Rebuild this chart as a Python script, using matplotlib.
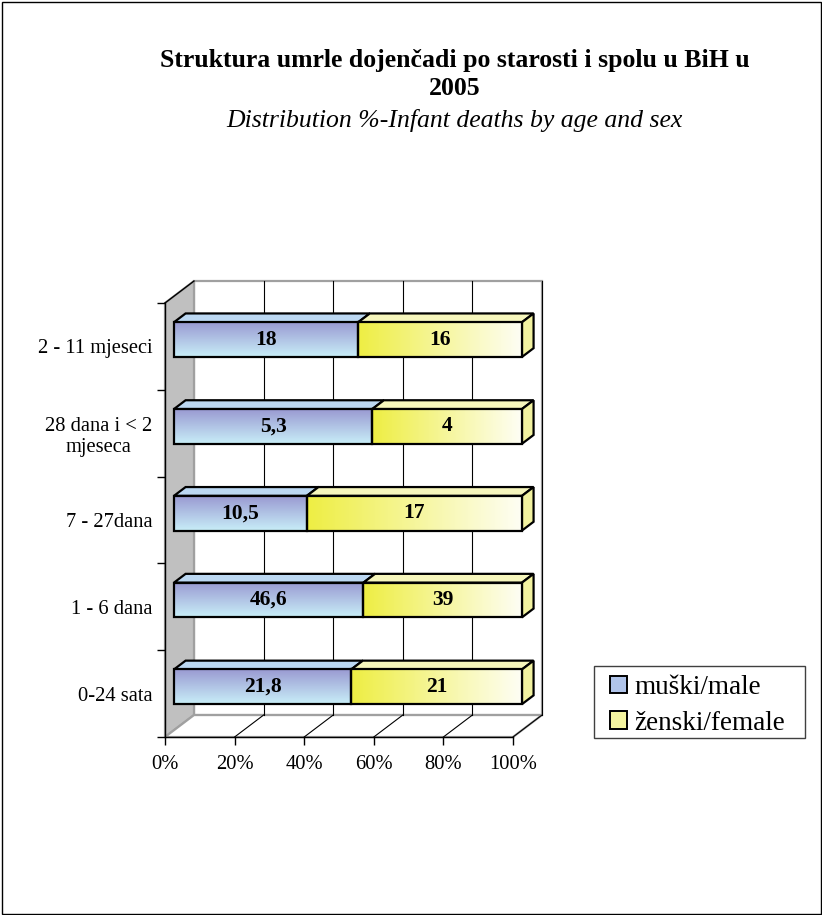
import numpy as np
import matplotlib
matplotlib.use("Agg")
import matplotlib.pyplot as plt
from matplotlib.patches import Polygon, Rectangle, Patch

plt.rcParams['font.family'] = ['Liberation Serif', 'DejaVu Serif']

# data (bottom to top)
categories = ['0-24 sata', '1 - 6 dana', '7 - 27dana', '28 dana i < 2\nmjeseca', '2 - 11 mjeseci']
male = [21.8, 46.6, 10.5, 5.3, 18]
female = [21, 39, 17, 4, 16]
male_lbl = ['21,8', '46,6', '10,5', '5,3', '18']
female_lbl = ['21', '39', '17', '4', '16']
series_names = ['muški/male', 'ženski/female']

# fake 3D depth (data units for the full wall depth)
DX, DY = 8.33, 0.253
D0, D1 = 0.31, 0.71      # bar front / back depth
BAR_H = 0.40
WALL = '#a0a0a0'

W, H = 822, 915
fig = plt.figure(figsize=(W / 100, H / 100), dpi=100)
ax = fig.add_axes([165 / W, (H - 737) / H, 348 / W, 434 / H])
ax.set_xlim(0, 100)
ax.set_ylim(0, 5)
ax.patch.set_visible(False)
for s in ['top', 'right']:
    ax.spines[s].set_visible(False)
for s in ['left', 'bottom']:
    ax.spines[s].set_linewidth(1.0)

def proj(x, y, d):
    return (x + d * DX, y + d * DY)

# walls
ax.add_patch(Polygon([(DX, DY), (100 + DX, DY), (100 + DX, 5 + DY), (DX, 5 + DY)],
                     closed=True, fc='white', ec=WALL, lw=1.6, clip_on=False, zorder=0.5))
ax.add_patch(Polygon([(0, 0), (DX, DY), (DX, 5 + DY), (0, 5)],
                     closed=True, fc='#c0c0c0', ec=WALL, lw=1.6, clip_on=False, zorder=0.6))
ax.add_patch(Polygon([(0, 0), (100, 0), (100 + DX, DY), (DX, DY)],
                     closed=True, fc='white', ec=WALL, lw=1.6, clip_on=False, zorder=0.6))
ax.plot([0, DX], [5, 5 + DY], color='black', lw=1.0, clip_on=False, zorder=0.7)
for g in range(20, 101, 20):
    ax.plot([g + DX, g + DX], [DY, 5 + DY], color='black', lw=0.8, clip_on=False, zorder=0.7)
    ax.plot([g, g + DX], [0, DY], color='black', lw=0.8, clip_on=False, zorder=0.7)

# gradients
male_grad = np.linspace(0, 1, 64)[:, None, None] * (np.array([200, 238, 248]) - np.array([154, 154, 210])) + np.array([154, 154, 210])
male_grad = np.repeat(male_grad / 255.0, 2, axis=1)
fem_grad = np.linspace(0, 1, 64)[None, :, None] * (np.array([254, 254, 244]) - np.array([238, 238, 68])) + np.array([238, 238, 68])
fem_grad = np.repeat(fem_grad / 255.0, 2, axis=0)

for i in range(len(categories)):
    tot = male[i] + female[i]
    m = male[i] / tot * 100
    yc = i + 0.5
    y0, y1 = yc - BAR_H / 2, yc + BAR_H / 2
    segs = [(0, m, male_grad, '#bcd8f2', male_lbl[i]),
            (m, 100, fem_grad, '#f6f6bc', female_lbl[i])]
    for k, (a, b, grad, topc, lbl) in enumerate(segs):
        fx0, fy0 = proj(a, y0, D0)
        fx1, fy1 = proj(b, y1, D0)
        # top face
        ax.add_patch(Polygon([proj(a, y1, D0), proj(b, y1, D0), proj(b, y1, D1), proj(a, y1, D1)],
                             closed=True, fc=topc, ec='black', lw=1.6, zorder=3, clip_on=False))
        # front face
        ax.imshow(grad, extent=[fx0, fx1, fy0, fy1], aspect='auto', interpolation='bilinear',
                  zorder=3.1, clip_on=False)
        ax.add_patch(Rectangle((fx0, fy0), fx1 - fx0, fy1 - fy0, fc='none', ec='black',
                               lw=1.6, zorder=3.2, clip_on=False))
        ax.text((fx0 + fx1) / 2, (fy0 + fy1) / 2, lbl, ha='center', va='center',
                fontsize=15.5, fontweight='bold', zorder=4)
        if k == 1:
            ax.add_patch(Polygon([proj(b, y0, D0), proj(b, y1, D0), proj(b, y1, D1), proj(b, y0, D1)],
                                 closed=True, fc='#f2f2a0', ec='black', lw=1.6, zorder=3, clip_on=False))

ax.set_xlim(0, 100)
ax.set_ylim(0, 5)

ax.set_xticks(range(0, 101, 20))
ax.set_xticklabels([f'{v}%' for v in range(0, 101, 20)], fontsize=14.8)
ax.set_yticks(range(0, 6))
ax.set_yticklabels([])
ax.set_yticks(np.arange(len(categories)) + 0.5, minor=True)
ax.set_yticklabels(categories, minor=True, fontsize=14.8)
ax.tick_params(axis='both', which='major', length=6, width=1, direction='out')
ax.tick_params(axis='y', which='minor', length=0, pad=9)
ax.tick_params(axis='x', pad=7)
for lbl in ax.get_yticklabels(minor=True):
    lbl.set_multialignment('center')

# titles
fig.text(455 / W, 1 - 60 / H, 'Struktura umrle dojenčadi po starosti i spolu u BiH u',
         ha='center', va='center', fontsize=18.5, fontweight='bold')
fig.text(455 / W, 1 - 88 / H, '2005', ha='center', va='center', fontsize=18.5, fontweight='bold')
fig.text(454 / W, 1 - 121 / H, 'Distribution %-Infant deaths by age and sex',
         ha='center', va='center', fontsize=18.5, style='italic')

# legend: frame drawn separately, entries placed inside
fig.patches.append(Rectangle((594 / W, 1 - 738 / H), 211 / W, 72 / H, transform=fig.transFigure,
                             fill=False, ec='#404040', lw=1.0))
handles = [Patch(fc='#b0c4ea', ec='black', lw=1.4), Patch(fc='#f6f6a0', ec='black', lw=1.4)]
leg = fig.legend(handles, series_names, loc='upper left', bbox_to_anchor=(610 / W, 1 - 675 / H),
                 fontsize=19.5, frameon=False, handlelength=0.63, handleheight=0.63,
                 handletextpad=0.26, borderpad=0, labelspacing=0.4, borderaxespad=0)

fig.patches.append(Rectangle((1.5 / W, 1.5 / H), 1 - 3 / W, 1 - 3 / H, transform=fig.transFigure,
                             fill=False, ec='black', lw=1.0))

fig.savefig('out.png', dpi=100)
